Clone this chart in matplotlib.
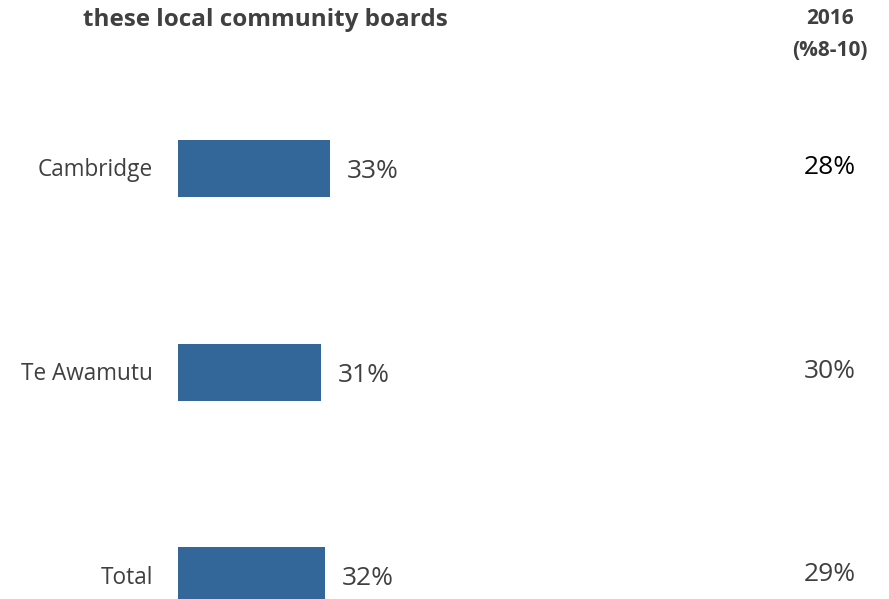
import matplotlib
matplotlib.use("Agg")
import matplotlib.pyplot as plt

# Data
categories = ["Cambridge", "Te Awamutu", "Total"]
values_current = [33, 31, 32]
values_2016 = [28, 30, 29]
header_title = "these local community boards"
header_2016 = ["2016", "(%8-10)"]

BAR_COLOR = "#336699"
TEXT_GRAY = "#404040"
plt.rcParams["font.family"] = ["Open Sans", "DejaVu Sans"]

W, H = 889, 599
fig = plt.figure(figsize=(W / 100, H / 100), dpi=100)

# Axis for the bars: x from 0..100 percent, rows spaced evenly
ax_left, ax_width = 178, 460
ax = fig.add_axes([ax_left / W, 0, ax_width / W, 1])
row_top, row_step = 168.5, 203.5
ax.set_xlim(0, 100)
ax.set_ylim((H - row_top) / row_step, -row_top / row_step)
ax.axis("off")

ypos = list(range(len(categories)))
ax.barh(ypos, values_current, height=57 / row_step, color=BAR_COLOR, left=0)

for y, cat, v, v16 in zip(ypos, categories, values_current, values_2016):
    ax.annotate(cat, xy=(0, y), xytext=(-25, -2), textcoords="offset pixels",
                ha="right", va="center", fontsize=16.3, color=TEXT_GRAY)
    ax.annotate(f"{v}%", xy=(v, y), xytext=(17, -3), textcoords="offset pixels",
                ha="left", va="center", fontsize=19, color=TEXT_GRAY)
    col16 = "black" if y == 0 else TEXT_GRAY
    fig.text(830 / W, 1 - (row_top + row_step * y - 1) / H, f"{v16}%",
             ha="center", va="center", fontsize=19, color=col16)

fig.text(265.5 / W, 1 - 20 / H, header_title, ha="center", va="center",
         fontsize=17.5, fontweight="bold", color=TEXT_GRAY)
for i, line in enumerate(header_2016):
    fig.text(830 / W, 1 - (19 + 32 * i) / H, line, ha="center", va="center",
             fontsize=15, fontweight="bold", color=TEXT_GRAY)

fig.savefig("out.png", dpi=100, facecolor="white")
